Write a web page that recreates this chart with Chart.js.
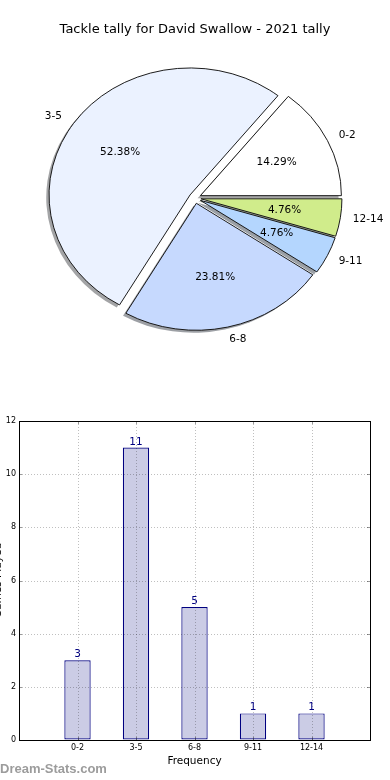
<!DOCTYPE html>
<html><head><meta charset="utf-8">
<script src="https://cdn.jsdelivr.net/npm/chart.js@4.4.1/dist/chart.umd.min.js"></script>
<style>
html,body{margin:0;padding:0;background:#fff;overflow:hidden;width:390px;height:780px;position:relative;}
#pieBox{position:absolute;left:0;top:0;width:390px;height:400px;}
#barBox{position:absolute;left:-8px;top:395px;width:398px;height:385px;}
#mark{position:absolute;left:0;top:762px;font:bold 13px "Liberation Sans",Arial,sans-serif;line-height:13px;color:#9c9c9c;white-space:nowrap;}
</style></head><body>
<div id="pieBox"><canvas id="pie" width="390" height="400"></canvas></div>
<div id="barBox"><canvas id="bar" width="398" height="385"></canvas></div>
<div id="mark">Dream-Stats.com</div>
<script>
// ---- data ----
const titleText = 'Tackle tally for David Swallow - 2021 tally';
const categories = ['0-2', '3-5', '6-8', '9-11', '12-14'];
const tallies = [3, 11, 5, 1, 1];
const sliceColors = ['#ffffff', '#ebf2ff', '#c6d9fe', '#b4d6fe', '#d0ec8b'];
const yTickValues = [0, 2, 4, 6, 8, 10, 12];
const xAxisTitle = 'Frequency';
const yAxisTitle = 'Games Played';

// ---- styles ----
const FONT = 'DejaVu Sans';
const PIE_R = 141;          // horizontal radius
const SY = 127 / 141;       // vertical squash of the pie
const EXPLODE = 6;          // explode distance
const SHADOW = 2.8;         // shadow shift
const total = tallies.reduce((a, b) => a + b, 0);

// matplotlib draws counter-clockwise from 3 o'clock; Chart.js goes clockwise,
// so feed the slices in reverse order starting at 3 o'clock.
const pieLabels = categories.slice().reverse();
const pieValues = tallies.slice().reverse();
const pieColors = sliceColors.slice().reverse();

function shadeOf(hex) {
  const n = parseInt(hex.slice(1), 16);
  const r = (n >> 16) & 255, g = (n >> 8) & 255, b = n & 255;
  return `rgba(${Math.round(r * 0.3)},${Math.round(g * 0.3)},${Math.round(b * 0.3)},0.5)`;
}

const explodePlugin = {
  id: 'explode',
  afterDatasetsUpdate(chart) {
    chart.getDatasetMeta(0).data.forEach(arc => {
      if (arc._wrapped) return;
      const orig = arc.draw;
      arc.draw = function (ctx) {
        const mid = (this.startAngle + this.endAngle) / 2;
        ctx.save();
        ctx.translate(Math.cos(mid) * EXPLODE, Math.sin(mid) * EXPLODE);
        orig.call(this, ctx);
        ctx.restore();
      };
      arc._wrapped = true;
    });
  }
};

const pieLook = {
  id: 'pieLook',
  beforeDatasetsDraw(chart) {
    const ctx = chart.ctx;
    const meta = chart.getDatasetMeta(0);
    const a0 = meta.data[0];
    const cx = a0.x, cy = a0.y;
    ctx.save();
    ctx.translate(cx, cy);
    ctx.scale(1, SY);
    ctx.translate(-cx, -cy);
    meta.data.forEach((arc, i) => {
      const mid = (arc.startAngle + arc.endAngle) / 2;
      const ox = arc.x + Math.cos(mid) * EXPLODE - SHADOW;
      const oy = arc.y + Math.sin(mid) * EXPLODE + SHADOW;
      ctx.beginPath();
      ctx.moveTo(ox, oy);
      ctx.arc(ox, oy, arc.outerRadius, arc.startAngle, arc.endAngle);
      ctx.closePath();
      ctx.fillStyle = shadeOf(pieColors[i]);
      ctx.fill();
    });
  },
  afterDatasetsDraw(chart) {
    const ctx = chart.ctx;
    ctx.restore();
    const meta = chart.getDatasetMeta(0);
    ctx.save();
    ctx.font = `10.5px "${FONT}"`;
    ctx.fillStyle = '#000';
    ctx.textBaseline = 'middle';
    meta.data.forEach((arc, i) => {
      const mid = (arc.startAngle + arc.endAngle) / 2;
      const c = Math.cos(mid), s = Math.sin(mid);
      const ax = arc.x + c * EXPLODE, ay = arc.y + s * EXPLODE;
      const toY = y => arc.y + (y - arc.y) * SY;
      const r = arc.outerRadius;
      ctx.textAlign = 'center';
      const pct = (pieValues[i] / total * 100).toFixed(2) + '%';
      ctx.fillText(pct, ax + c * r * 0.6, toY(ay + s * r * 0.6));
      ctx.textAlign = c > 0 ? 'left' : 'right';
      ctx.fillText(pieLabels[i], ax + c * r * 1.1 - (c > 0 ? 1.5 : 0), toY(ay + s * r * 1.1));
    });
    ctx.restore();
  }
};

new Chart(document.getElementById('pie'), {
  type: 'pie',
  data: {
    labels: pieLabels,
    datasets: [{
      data: pieValues,
      backgroundColor: pieColors,
      borderColor: '#111',
      borderWidth: 1,
      radius: PIE_R,
      offset: 0,
      hoverOffset: 0,
      clip: false
    }]
  },
  options: {
    responsive: false,
    animation: false,
    events: [],
    rotation: 90,
    layout: { padding: { top: 0, bottom: 41.3, left: 0, right: 0 } },
    plugins: {
      legend: { display: false },
      tooltip: { enabled: false },
      title: {
        display: true, text: titleText, color: '#000',
        font: { family: FONT, size: 13, weight: 'normal' },
        padding: { top: 21.7, bottom: 0 }
      }
    }
  },
  plugins: [explodePlugin, pieLook]
});

// ---- bar chart ----
const barDecor = {
  id: 'barDecor',
  afterDatasetsDraw(chart) {
    const ctx = chart.ctx, area = chart.chartArea;
    const xs = chart.scales.x, ys = chart.scales.y;
    ctx.save();
    ctx.lineWidth = 1;
    ctx.strokeStyle = 'rgba(0,0,0,0.25)';
    ctx.setLineDash([1, 2]);
    categories.forEach((c, i) => {
      const x = Math.round(xs.getPixelForValue(i)) + 0.5;
      ctx.beginPath(); ctx.moveTo(x, area.top); ctx.lineTo(x, area.bottom); ctx.stroke();
    });
    yTickValues.forEach(v => {
      if (v === ys.min || v === ys.max) return;
      const y = Math.round(ys.getPixelForValue(v)) + 0.5;
      ctx.beginPath(); ctx.moveTo(area.left, y); ctx.lineTo(area.right, y); ctx.stroke();
    });
    ctx.setLineDash([]);
    // inward tick marks
    ctx.strokeStyle = 'rgba(0,0,0,0.4)';
    const L = 3;
    categories.forEach((c, i) => {
      const x = Math.round(xs.getPixelForValue(i)) + 0.5;
      ctx.beginPath();
      ctx.moveTo(x, area.top); ctx.lineTo(x, area.top + L);
      ctx.moveTo(x, area.bottom); ctx.lineTo(x, area.bottom - L);
      ctx.stroke();
    });
    yTickValues.forEach(v => {
      const y = Math.round(ys.getPixelForValue(v)) + 0.5;
      ctx.beginPath();
      ctx.moveTo(area.left, y); ctx.lineTo(area.left + L, y);
      ctx.moveTo(area.right, y); ctx.lineTo(area.right - L, y);
      ctx.stroke();
    });
    // frame
    ctx.strokeStyle = '#000';
    ctx.strokeRect(Math.round(area.left) + 0.5, Math.round(area.top) + 0.5,
                   Math.round(area.right - area.left), Math.round(area.bottom - area.top));
    // value labels
    ctx.font = `10.5px "${FONT}"`;
    ctx.fillStyle = '#000080';
    ctx.textAlign = 'center';
    ctx.textBaseline = 'alphabetic';
    chart.getDatasetMeta(0).data.forEach((bar, i) => {
      ctx.fillText(String(tallies[i]), bar.x, bar.y - 3);
    });
    ctx.restore();
  }
};

new Chart(document.getElementById('bar'), {
  type: 'bar',
  data: {
    datasets: [{
      data: categories.map((c, i) => ({ x: i, y: tallies[i] })),
      backgroundColor: '#cbcce5',
      borderColor: '#000080',
      borderWidth: 1.2,
      borderSkipped: false,
      barPercentage: 0.45,
      categoryPercentage: 1
    }]
  },
  options: {
    responsive: false,
    animation: false,
    events: [],
    layout: { padding: { top: 26, right: 20, left: 0, bottom: 0 } },
    plugins: { legend: { display: false }, tooltip: { enabled: false } },
    scales: {
      x: {
        type: 'linear', min: -1, max: 5, offset: false,
        ticks: {
          stepSize: 1, padding: 3, color: '#000', maxRotation: 0, autoSkip: false,
          font: { family: FONT, size: 8 },
          callback: v => (categories[v] !== undefined ? categories[v] : '')
        },
        grid: { drawOnChartArea: false, drawTicks: false, offset: false },
        border: { display: false },
        title: {
          display: true, text: xAxisTitle, color: '#000',
          font: { family: FONT, size: 10.5 }, padding: { top: 0, bottom: 12.7 }
        },
        afterFit: s => { s.height = 40; }
      },
      y: {
        min: 0, max: 12,
        afterBuildTicks: s => { s.ticks = yTickValues.map(v => ({ value: v })); },
        ticks: { padding: 3, color: '#000', font: { family: FONT, size: 8 } },
        grid: { drawOnChartArea: false, drawTicks: false },
        border: { display: false },
        title: {
          display: true, text: yAxisTitle, color: '#000',
          font: { family: FONT, size: 10.5 }, padding: 0
        },
        afterFit: s => { s.width = 27; }
      }
    }
  },
  plugins: [barDecor]
});
</script>
</body></html>
